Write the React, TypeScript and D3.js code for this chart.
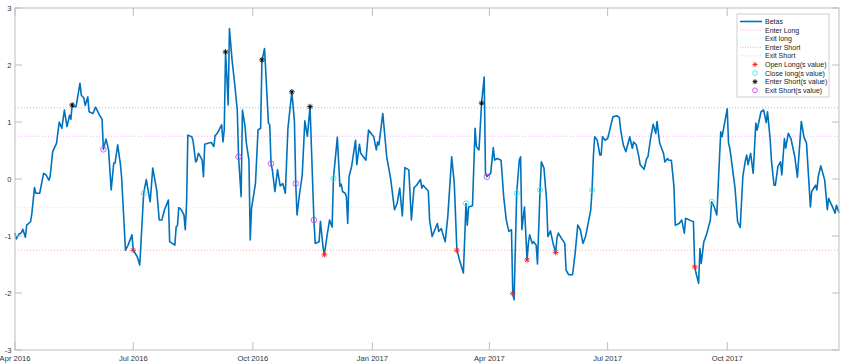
import React from "react";
import * as d3 from "d3";

// dates are day offsets from the first observation (1 Apr 2016)
const startDate = new Date(2016, 3, 1);
const lastDay = 634;

const betaDays = [
  0, 1, 3, 5, 6, 8, 9, 12, 13, 15, 16, 19, 22, 24, 26, 27, 29, 32, 34, 36, 38, 40, 42, 43, 44, 45, 47, 50, 51, 53,
  54, 56, 57, 60, 62, 65, 67, 68, 70, 72, 74, 76, 77, 79, 81, 82, 85, 87, 90, 91, 94, 96, 99, 101, 104, 106, 109, 111,
  113, 115, 118, 119, 123, 124, 125, 126, 128, 130, 131, 132, 133, 136, 137, 139, 140, 141, 142, 144, 145, 146, 149,
  151, 153, 154, 155, 157, 159, 160, 161, 162, 163, 164, 165, 167, 169, 171, 172, 174, 175, 177, 178, 180, 181, 182,
  185, 187, 189, 190, 191, 192, 195, 196, 197, 198, 200, 202, 204, 206, 208, 210, 213, 215, 216, 217, 219, 221, 223,
  225, 227, 230, 231, 234, 235, 237, 238, 240, 242, 244, 245, 248, 250, 251, 252, 254, 255, 256, 257, 259, 262, 263,
  265, 266, 268, 270, 272, 274, 276, 278, 279, 280, 283, 286, 289, 292, 294, 296, 298, 300, 303, 305, 307, 309, 312,
  313, 314, 318, 319, 321, 323, 325, 326, 328, 329, 331, 333, 336, 338, 340, 342, 345, 347, 348, 349, 352, 354, 355,
  357, 359, 361, 362, 363, 366, 368, 369, 371, 374, 376, 378, 380, 382, 383, 384, 386, 388, 389, 390, 392, 394, 395,
  396, 398, 399, 401, 402, 404, 405, 407, 409, 410, 412, 414, 416, 417, 418, 421, 423, 424, 426, 429, 431, 433, 435,
  437, 439, 441, 443, 444, 445, 446, 448, 450, 451, 452, 454, 456, 457, 460, 463, 465, 466, 468, 470, 472, 473, 475,
  476, 478, 480, 481, 484, 486, 487, 489, 491, 493, 494, 496, 498, 499, 500, 502, 503, 505, 507, 508, 511, 513, 515,
  516, 520, 522, 523, 524, 526, 527, 528, 530, 532, 535, 536, 538, 540, 543, 544, 548, 549, 550, 552, 554, 556, 558,
  560, 562, 563, 564, 566, 568, 570, 571, 574, 576, 578, 579, 581, 582, 584, 585, 587, 589, 590, 592, 593, 595, 597,
  600, 602, 605, 607, 609, 612, 613, 616, 617, 618, 620, 623, 625, 626, 629, 631, 632, 634,
];

const betaValues = [
  -0.95, -1.05, -0.97, -0.94, -0.88, -1.02, -0.81, -0.75, -0.6, -0.15, -0.25, -0.25, 0.1, 0.07, -0.02, 0.04, 0.48,
  0.63, 1.0, 0.89, 1.21, 0.92, 1.12, 1.05, 1.3, 1.27, 1.27, 1.68, 1.47, 1.42, 1.29, 1.44, 1.18, 1.15, 1.26, 1.12,
  1.05, 0.52, 0.7, 0.51, -0.19, 0.28, 0.28, 0.6, 0.28, 0.04, -1.25, -1.16, -0.98, -1.25, -1.36, -1.51, -0.25, -0.01,
  -0.4, 0.19, -0.19, -0.72, -0.72, -0.54, -0.37, -1.1, -1.16, -0.84, -0.82, -0.5, -0.54, -0.63, -0.89, -0.43, 0.77,
  0.74, 0.67, 0.3, 0.33, 0.45, 0.42, 0.33, 0.04, 0.61, 0.63, 0.64, 0.57, 0.77, 0.78, 0.86, 0.95, 0.65, 0.86, 2.23,
  1.79, 1.3, 2.64, 2.09, 1.68, 1.21, 0.39, -0.31, 1.21, 0.92, 0.63, 0.33, -1.07, -0.51, -0.08, 0.86, 0.89, 2.09, 2.18,
  2.29, 0.98, 0.95, 0.27, 0.16, -0.22, 0.16, -0.12, -0.08, -0.25, 0.89, 1.53, 1.01, -0.08, -0.63, -0.25, 0.07, 1.02,
  0.75, 1.27, -0.72, -1.13, -1.1, -0.74, -1.19, -1.33, -1.01, -0.72, -0.84, 0.01, 0.73, -0.13, -0.09, -0.22, -0.25,
  -0.31, -0.78, 0.04, 0.22, 0.68, 0.25, 0.61, 0.45, 0.39, 0.33, 0.86, 0.8, 0.74, 0.51, 0.65, 0.6, 1.15, 0.39, 0.01,
  -0.54, -0.43, -0.16, -0.65, 0.2, 0.16, -0.72, -0.15, -0.11, -0.01, -0.16, -0.11, -0.21, -0.72, -1.01, -0.89, -0.78,
  -0.92, -0.87, -0.95, -1.1, -0.66, 0.39, -0.08, -1.25, -1.42, -1.65, -0.43, -0.81, -0.49, -0.47, 0.89, 0.57, 0.51,
  1.33, 1.79, 0.1, 0.04, 0.1, 0.55, 0.33, 0.36, 0.33, -0.31, -0.72, -0.92, -0.89, -2.01, -2.12, -0.25, 0.33, 0.39,
  -0.89, -0.49, -1.42, -1.13, -0.98, -1.13, -1.1, -1.16, -1.49, -0.19, 0.3, 0.19, -0.37, -1.01, -0.91, -1.13, -1.29,
  -1.04, -0.95, -1.06, -1.13, -1.6, -1.68, -1.68, -1.3, -0.81, -0.89, -1.13, -1.01, -0.78, -0.54, -0.19, 0.39, 0.74,
  0.68, 0.42, 0.42, 0.74, 0.68, 0.71, 0.8, 1.09, 1.11, 1.08, 0.86, 0.6, 0.48, 0.65, 0.74, 0.54, 0.65, 0.6, 0.39, 0.25,
  0.17, 0.36, 0.39, 0.71, 0.96, 0.8, 1.01, 0.63, 0.51, 0.45, 0.3, 0.36, 0.33, 0.33, -0.13, -0.81, -0.78, -0.72, -0.95,
  -0.69, -0.73, -0.75, -1.54, -1.65, -1.83, -1.22, -1.48, -1.1, -0.98, -0.72, -0.4, -0.49, -0.63, 0.83, 0.74, 1.23,
  0.63, 0.54, 0.19, -0.16, -0.75, -0.85, 0.04, 0.33, 0.42, 0.25, 0.45, 0.1, 0.98, 0.86, 1.18, 1.21, 0.99, 1.18, 0.71,
  0.33, -0.11, -0.11, 0.22, 0.3, 0.07, 0.71, 0.54, 0.8, 0.71, 0.39, 0.03, 1.01, 0.74, 0.63, -0.49, -0.22, -0.11, -0.19,
  0.04, 0.23, -0.02, -0.54, -0.34, -0.49, -0.6, -0.46, -0.59,
];

// signal days (markers sit on the betas series)
const openLongDays = [91, 238, 340, 383, 394, 416, 523];
const closeLongDays = [99, 245, 347, 386, 404, 444, 536];
const enterShortDays = [44, 162, 190, 213, 227, 359];
const exitShortDays = [68, 172, 197, 216, 230, 363];

// thresholds
const enterLong = -1.25;
const exitLong = -0.5;
const enterShort = 1.25;
const exitShort = 0.75;

const legendLabels = [
  "Betas",
  "Enter Long",
  "Exit long",
  "Enter Short",
  "Exit Short",
  "Open Long(s value)",
  "Close long(s value)",
  "Enter Short(s value)",
  "Exit Short(s value)",
];

const W = 850;
const H = 364;
const left = 15;
const right = 839;
const top = 8;
const bottom = 350;
const font = "'Liberation Sans', Arial, Helvetica, sans-serif";
const blue = "#0072BD";

function asterisk(r: number) {
  const a = r * 0.72;
  return `M${-r},0H${r}M0,${-r}V${r}M${-a},${-a}L${a},${a}M${-a},${a}L${a},${-a}`;
}

export default function App() {
  const date = (d: number) => d3.timeDay.offset(startDate, d);
  const x = d3.scaleTime().domain([startDate, date(lastDay)]).range([left, right]);
  const y = d3.scaleLinear().domain([-3, 3]).range([bottom, top]);

  const points = betaDays.map((d, i) => ({ t: date(d), v: betaValues[i] }));
  const valueAt = new Map(betaDays.map((d, i) => [d, betaValues[i]]));

  const line = d3
    .line<{ t: Date; v: number }>()
    .x((d) => x(d.t))
    .y((d) => y(d.v));

  const xTicks = x.ticks(d3.timeMonth.every(3)!);
  const yTicks = y.ticks(6);
  const fmt = d3.timeFormat("%b %Y");

  const levels = [
    { v: enterShort, color: "#000000", op: 0.32 },
    { v: exitShort, color: "#ff00ff", op: 0.45 },
    { v: exitLong, color: "#00ffff", op: 0.35 },
    { v: enterLong, color: "#ff0000", op: 0.45 },
  ];

  const mark = (days: number[]) => days.map((d) => ({ cx: x(date(d)), cy: y(valueAt.get(d) ?? 0) }));

  const lg = { x: 737, y: 14, w: 92, h: 83 };
  const rowY = (i: number) => 21.5 + i * 8.6;
  const legendLines = [
    { color: blue, dash: null, width: 1.6, op: 1 },
    { color: "#ff0000", dash: "1,1.5", width: 0.7, op: 0.45 },
    { color: "#00ffff", dash: "1,1.5", width: 0.7, op: 0.35 },
    { color: "#000000", dash: "1,1.5", width: 0.7, op: 0.35 },
    { color: "#ff00ff", dash: "1,1.5", width: 0.7, op: 0.35 },
  ];

  return (
    <svg
      width={W}
      height={H}
      style={{ position: "absolute", left: 0, top: 0, background: "#fff" }}
      fontFamily={font}
    >
      <rect x={0} y={0} width={W} height={H} fill="#fff" />

      {/* threshold lines */}
      {levels.map((l, i) => (
        <line
          key={i}
          x1={left}
          x2={right}
          y1={y(l.v)}
          y2={y(l.v)}
          stroke={l.color}
          strokeOpacity={l.op}
          strokeWidth={0.8}
          strokeDasharray="1,2"
        />
      ))}

      <path d={line(points) ?? ""} fill="none" stroke={blue} strokeWidth={1.6} strokeLinejoin="round" />

      {mark(openLongDays).map((p, i) => (
        <path key={"ol" + i} d={asterisk(2.8)} transform={`translate(${p.cx},${p.cy})`} stroke="#ff2020" strokeWidth={0.9} />
      ))}
      {mark(closeLongDays).map((p, i) => (
        <circle key={"cl" + i} cx={p.cx} cy={p.cy} r={2.6} fill="none" stroke="#33e6ee" strokeWidth={0.8} />
      ))}
      {mark(enterShortDays).map((p, i) => (
        <path key={"es" + i} d={asterisk(2.8)} transform={`translate(${p.cx},${p.cy})`} stroke="#000" strokeWidth={0.9} />
      ))}
      {mark(exitShortDays).map((p, i) => (
        <circle key={"xs" + i} cx={p.cx} cy={p.cy} r={2.8} fill="none" stroke="#cc33ee" strokeWidth={0.8} />
      ))}

      {/* axes box */}
      <rect x={left} y={top} width={right - left} height={bottom - top} fill="none" stroke="#bdbdbd" strokeWidth={1} />
      {yTicks.map((t) => (
        <g key={"y" + t}>
          <line x1={left} x2={left + 7} y1={y(t)} y2={y(t)} stroke="#bdbdbd" />
          <line x1={right} x2={right - 7} y1={y(t)} y2={y(t)} stroke="#bdbdbd" />
          <text x={11.5} y={y(t)} dy="0.35em" textAnchor="end" fontSize={7.6} fill="#333">
            {t}
          </text>
        </g>
      ))}
      {xTicks.map((t) => (
        <g key={"x" + +t}>
          <line x1={x(t)} x2={x(t)} y1={bottom} y2={bottom - 8} stroke="#bdbdbd" />
          <line x1={x(t)} x2={x(t)} y1={top} y2={top + 8} stroke="#bdbdbd" />
          <text x={x(t)} y={361} textAnchor="middle" fontSize={7.6} fill="#333">
            {fmt(t)}
          </text>
        </g>
      ))}

      {/* legend */}
      <rect x={lg.x} y={lg.y} width={lg.w} height={lg.h} fill="#fff" stroke="#c4c4c4" strokeWidth={0.8} />
      {legendLabels.map((label, i) => {
        const cy = rowY(i);
        let sample: React.ReactNode = null;
        if (i < 5) {
          const s = legendLines[i];
          sample = (
            <line
              x1={740}
              x2={762}
              y1={cy}
              y2={cy}
              stroke={s.color}
              strokeOpacity={s.op}
              strokeWidth={s.width}
              strokeDasharray={s.dash ?? undefined}
            />
          );
        } else if (i === 5) {
          sample = <path d={asterisk(2.5)} transform={`translate(755,${cy})`} stroke="#ff2020" strokeWidth={0.9} />;
        } else if (i === 6) {
          sample = <circle cx={755} cy={cy} r={2.4} fill="none" stroke="#33e6ee" strokeWidth={0.8} />;
        } else if (i === 7) {
          sample = <path d={asterisk(2.5)} transform={`translate(755,${cy})`} stroke="#000" strokeWidth={0.9} />;
        } else {
          sample = <circle cx={755} cy={cy} r={2.4} fill="none" stroke="#cc33ee" strokeWidth={0.8} />;
        }
        return (
          <g key={label}>
            {sample}
            <text x={765} y={cy} dy="0.35em" fontSize={7} fill="#222">
              {label}
            </text>
          </g>
        );
      })}
    </svg>
  );
}
